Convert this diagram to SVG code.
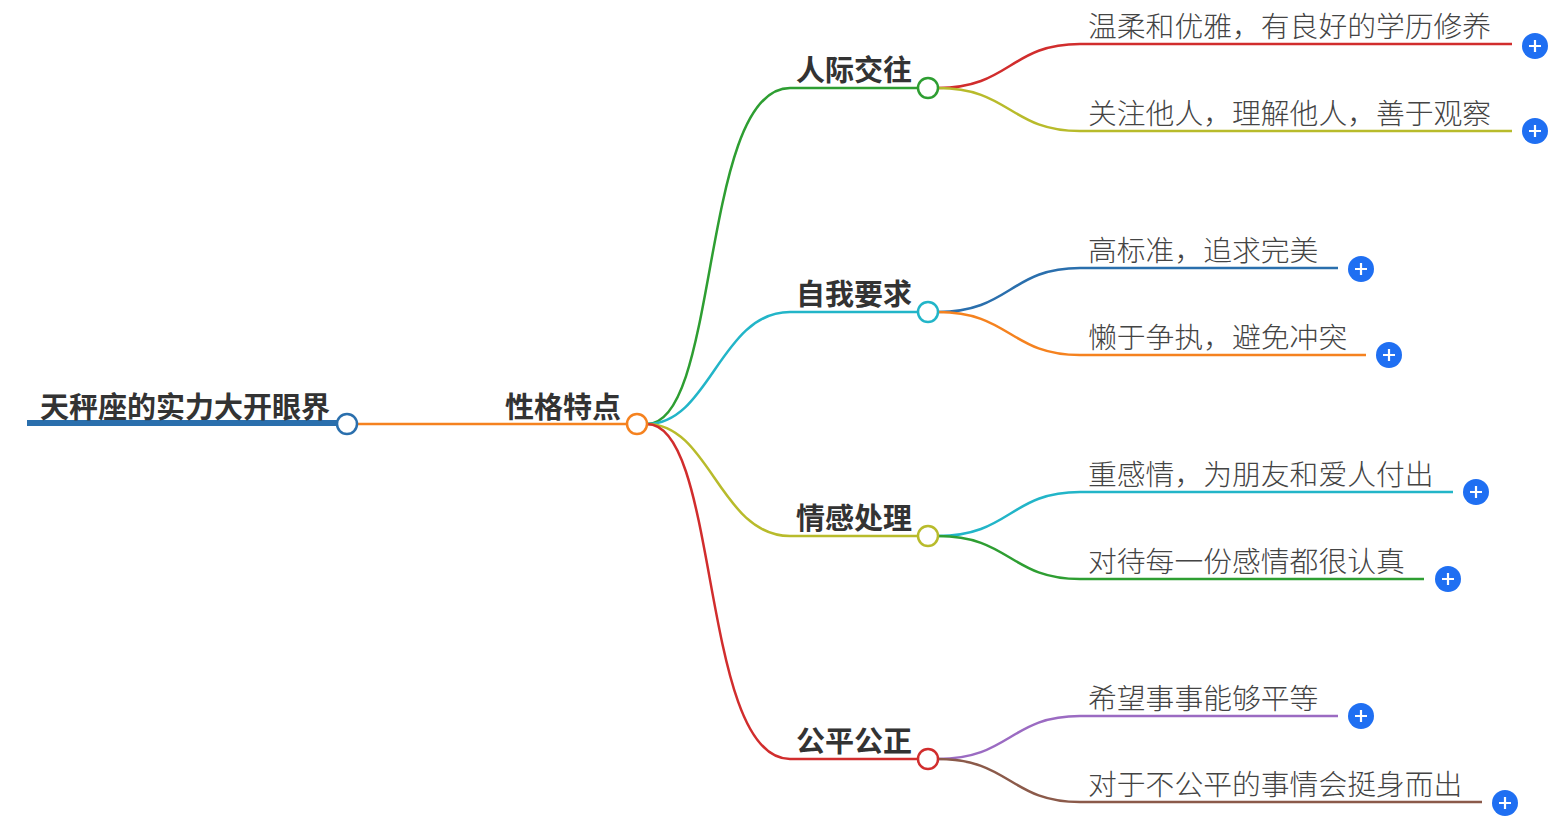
<svg xmlns="http://www.w3.org/2000/svg" width="1561" height="821" viewBox="0 0 1561 821">
<defs>
<style>
.c{fill:#fff;stroke-width:2.5}
.l{fill:none;stroke-width:2.5}
.t1{font-family:"Noto Sans CJK SC",sans-serif;font-weight:700;font-size:29px;fill:#333;text-anchor:end}
.t3{font-family:"Noto Sans CJK SC",sans-serif;font-weight:300;font-size:28.8px;fill:#444}
.p{fill:#1f6ff2}
.pl{stroke:#fff;stroke-width:2.2}
</style>
<g id="plus"><circle class="p" r="13"/><path class="pl" d="M-6,0H6M0,-6V6"/></g>
</defs>
<rect width="1561" height="821" fill="#fff"/>
<g id="connectors">
<path d="M27,423H337" stroke="#2a6fad" stroke-width="6" fill="none"/>
<path class="l" d="M358,424H627" stroke="#f5821f" stroke-width="3"/>
<path class="l" d="M647,424C720,424 700,88 790,88H918" stroke="#2e9e32"/>
<path class="l" d="M647,424C710,424 720,312 790,312H918" stroke="#22b5c8"/>
<path class="l" d="M647,424C710,424 720,536 790,536H918" stroke="#b8bb2b"/>
<path class="l" d="M647,424C720,424 700,759 790,759H918" stroke="#d12d2d"/>
<path class="l" d="M938,88C1010,88 1010,44 1080,44H1512" stroke="#d12d2d"/>
<path class="l" d="M938,88C1010,88 1010,131 1080,131H1512" stroke="#b8bb2b"/>
<path class="l" d="M938,312C1010,312 1010,268 1080,268H1338" stroke="#2a6fad"/>
<path class="l" d="M938,312C1010,312 1010,355 1080,355H1366" stroke="#f5821f"/>
<path class="l" d="M938,536C1010,536 1010,492 1080,492H1453" stroke="#22b5c8"/>
<path class="l" d="M938,536C1010,536 1010,579 1080,579H1424" stroke="#2e9e32"/>
<path class="l" d="M938,759C1010,759 1010,716 1080,716H1338" stroke="#9b6bc2"/>
<path class="l" d="M938,759C1010,759 1010,802 1080,802H1482" stroke="#8b5a4a"/>
</g>
<g id="root"><text class="t1" x="330" y="418">天秤座的实力大开眼界</text><circle class="c" cx="347" cy="424" r="10" stroke="#2a6fad"/></g>
<g id="n0"><text class="t1" x="621" y="418">性格特点</text><circle class="c" cx="637" cy="424" r="10" stroke="#f5821f"/></g>
<g id="n1"><text class="t1" x="912" y="81">人际交往</text><circle class="c" cx="928" cy="88" r="10" stroke="#2e9e32"/></g>
<g id="n2"><text class="t1" x="912" y="305">自我要求</text><circle class="c" cx="928" cy="312" r="10" stroke="#22b5c8"/></g>
<g id="n3"><text class="t1" x="912" y="529">情感处理</text><circle class="c" cx="928" cy="536" r="10" stroke="#b8bb2b"/></g>
<g id="n4"><text class="t1" x="912" y="752">公平公正</text><circle class="c" cx="928" cy="759" r="10" stroke="#d12d2d"/></g>
<g id="l1"><text class="t3" x="1088" y="37">温柔和优雅，有良好的学历修养</text><use href="#plus" x="1535" y="46"/></g>
<g id="l2"><text class="t3" x="1088" y="124">关注他人，理解他人，善于观察</text><use href="#plus" x="1535" y="131"/></g>
<g id="l3"><text class="t3" x="1088" y="261">高标准，追求完美</text><use href="#plus" x="1361" y="269"/></g>
<g id="l4"><text class="t3" x="1088" y="348">懒于争执，避免冲突</text><use href="#plus" x="1389" y="355"/></g>
<g id="l5"><text class="t3" x="1088" y="485">重感情，为朋友和爱人付出</text><use href="#plus" x="1476" y="492"/></g>
<g id="l6"><text class="t3" x="1088" y="572">对待每一份感情都很认真</text><use href="#plus" x="1448" y="579"/></g>
<g id="l7"><text class="t3" x="1088" y="709">希望事事能够平等</text><use href="#plus" x="1361" y="716"/></g>
<g id="l8"><text class="t3" x="1088" y="795">对于不公平的事情会挺身而出</text><use href="#plus" x="1505" y="803"/></g>
</svg>
